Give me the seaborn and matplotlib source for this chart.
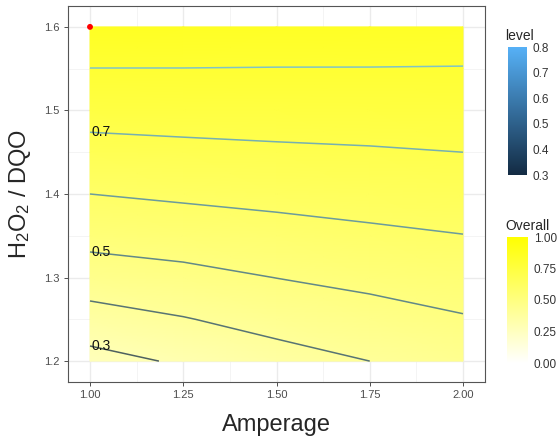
import numpy as np
import matplotlib
matplotlib.use("Agg")
import matplotlib.pyplot as plt
from matplotlib.colors import LinearSegmentedColormap, Normalize
from matplotlib.cm import ScalarMappable
import seaborn as sns

# ---- data ----
amperage = [1.00, 1.25, 1.50, 1.75, 2.00]
h2o2_dqo = [1.20, 1.25, 1.30, 1.35, 1.40, 1.45, 1.50, 1.55, 1.60]
overall_120 = [0.266, 0.312, 0.363, 0.400, 0.437]
overall_125 = [0.360, 0.395, 0.433, 0.463, 0.493]
overall_130 = [0.451, 0.473, 0.501, 0.524, 0.545]
overall_135 = [0.531, 0.546, 0.565, 0.583, 0.598]
overall_140 = [0.600, 0.615, 0.627, 0.638, 0.649]
overall_145 = [0.668, 0.678, 0.686, 0.692, 0.700]
overall_150 = [0.735, 0.739, 0.742, 0.745, 0.749]
overall_155 = [0.799, 0.799, 0.798, 0.798, 0.797]
overall_160 = [0.863, 0.859, 0.853, 0.850, 0.846]
contour_levels = [0.3, 0.4, 0.5, 0.6, 0.7, 0.8]
label_levels = [0.3, 0.5, 0.7]
best_point_x = [1.0]
best_point_y = [1.6]
x_ticks = [1.00, 1.25, 1.50, 1.75, 2.00]
x_ticklabels = ["1.00", "1.25", "1.50", "1.75", "2.00"]
y_ticks = [1.2, 1.3, 1.4, 1.5, 1.6]
y_ticklabels = ["1.2", "1.3", "1.4", "1.5", "1.6"]
level_ticks = [0.3, 0.4, 0.5, 0.6, 0.7, 0.8]
overall_ticks = [0.00, 0.25, 0.50, 0.75, 1.00]
overall_ticklabels = ["0.00", "0.25", "0.50", "0.75", "1.00"]

Z = np.array([overall_120, overall_125, overall_130, overall_135, overall_140,
              overall_145, overall_150, overall_155, overall_160])
X, Y = np.meshgrid(amperage, h2o2_dqo)

sns.set_style("white")
plt.rcParams["font.family"] = ["Liberation Sans", "DejaVu Sans"]
plt.rcParams["mathtext.fontset"] = "custom"
plt.rcParams["mathtext.rm"] = "Liberation Sans"
plt.rcParams["mathtext.it"] = "Liberation Sans"

fig = plt.figure(figsize=(5.6, 4.48), dpi=100)
W, H = 560, 448
ax = fig.add_axes([68 / W, 1 - 382 / H, (485 - 68) / W, (382 - 6) / H])

fill_cmap = LinearSegmentedColormap.from_list("wy", ["#FFFFFF", "#FFFF00"])
line_cmap = LinearSegmentedColormap.from_list("bl", ["#132B43", "#56B1F7"])
fill_norm = Normalize(0, 1)
line_norm = Normalize(0.3, 0.8)

# grid
for v in [1.125, 1.375, 1.625, 1.875]:
    ax.axvline(v, color="#F2F2F2", lw=0.6, zorder=0)
for v in [1.25, 1.35, 1.45, 1.55]:
    ax.axhline(v, color="#F2F2F2", lw=0.6, zorder=0)
for v in x_ticks:
    ax.axvline(v, color="#EBEBEB", lw=1.0, zorder=0)
for v in y_ticks:
    ax.axhline(v, color="#EBEBEB", lw=1.0, zorder=0)

ax.pcolormesh(X, Y, Z, shading="gouraud", cmap=fill_cmap, norm=fill_norm, zorder=1)
cs = ax.contour(X, Y, Z, levels=contour_levels, cmap=line_cmap, norm=line_norm,
                linewidths=1.1, alpha=0.75, zorder=2)
for lev, segs in zip(cs.levels, cs.allsegs):
    if any(abs(lev - l) < 1e-9 for l in label_levels) and len(segs):
        seg = segs[0]
        i = np.argmin(seg[:, 0])
        ax.text(seg[i, 0] + 0.004, seg[i, 1], f"{lev:.1f}", ha="left", va="center",
                fontsize=10, color="#111111", zorder=3)

sns.scatterplot(x=best_point_x, y=best_point_y, color="red", s=18, edgecolor="none",
                ax=ax, zorder=4)

ax.set_xlim(0.941, 2.059)
ax.set_ylim(1.175, 1.625)
ax.set_xticks(x_ticks)
ax.set_xticklabels(x_ticklabels)
ax.set_yticks(y_ticks)
ax.set_yticklabels(y_ticklabels)
ax.tick_params(axis="both", direction="out", length=3, width=0.6, color="#333333",
               labelsize=8, labelcolor="#4D4D4D", pad=3, bottom=True, left=True)
for s in ax.spines.values():
    s.set_color("#555555")
    s.set_linewidth(0.8)
ax.set_xlabel("Amperage", fontsize=17, labelpad=10)
ax.set_ylabel(r"H$_\mathregular{2}$O$_\mathregular{2}$ / DQO", fontsize=17, labelpad=8)

# level colorbar
cax1 = fig.add_axes([508 / W, 1 - 175 / H, 19 / W, 128 / H])
cb1 = fig.colorbar(ScalarMappable(norm=line_norm, cmap=line_cmap), cax=cax1, ticks=level_ticks)
cb1.outline.set_visible(False)
cax1.tick_params(which="both", direction="in", length=3, width=0.8, color="white",
                 left=True, right=True, labelleft=False, labelright=True,
                 labelsize=8.5, labelcolor="#333333", pad=4)
cax1.minorticks_off()
cax1.set_title("level", fontsize=10, loc="left", pad=5, x=-0.15)

# Overall colorbar
cax2 = fig.add_axes([507 / W, 1 - 363 / H, 21 / W, 126 / H])
cb2 = fig.colorbar(ScalarMappable(norm=fill_norm, cmap=fill_cmap), cax=cax2, ticks=overall_ticks)
cb2.outline.set_visible(False)
cb2.ax.set_yticklabels(overall_ticklabels)
cax2.tick_params(which="both", direction="in", length=3, width=0.8, color="white",
                 left=True, right=True, labelleft=False, labelright=True,
                 labelsize=8.5, labelcolor="#333333", pad=4)
cax2.minorticks_off()
cax2.set_title("Overall", fontsize=10, loc="left", pad=5, x=-0.1)

fig.savefig("out.png", dpi=100)
